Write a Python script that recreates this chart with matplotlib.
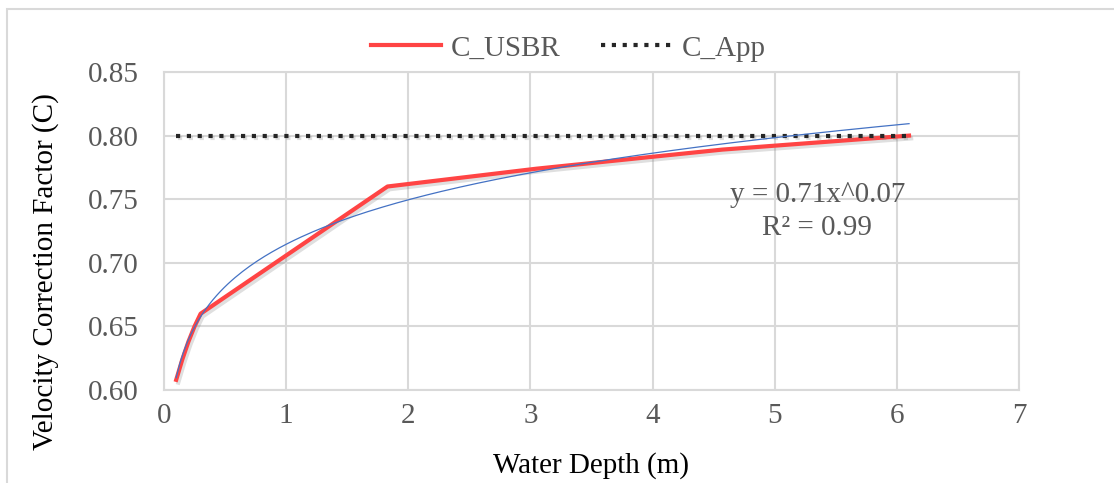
import numpy as np
import matplotlib.pyplot as plt
import matplotlib.patheffects as pe
from matplotlib.patches import Rectangle

# data
depth = [0.1, 0.15, 0.2, 0.25, 0.3, 1.83, 3.05, 4.57, 6.1]
c_usbr = [0.608, 0.624, 0.638, 0.650, 0.660, 0.760, 0.774, 0.789, 0.800]
c_app = [0.80] * len(depth)

x_ticks = [0, 1, 2, 3, 4, 5, 6, 7]
y_ticks = [0.60, 0.65, 0.70, 0.75, 0.80, 0.85]

# power trendline like excel (least squares on logs)
b, log_a = np.polyfit(np.log(depth), np.log(c_usbr), 1)
xs = np.linspace(depth[0], depth[-1], 200)
ys = np.exp(log_a) * xs ** b

plt.rcParams['font.family'] = ['Liberation Serif', 'DejaVu Serif']
grey_txt = '#595959'
grid_c = '#d9d9d9'
fs = 21

fig = plt.figure(figsize=(11.14, 4.83), dpi=100)
ax = fig.add_axes([0.1472, 0.1925, 0.7675, 0.6584])

# chart area border (cut off right/bottom as in the source)
fig.patches.append(Rectangle((7 / 1114, -0.1), 1.2, 1 - 9 / 483 + 0.1,
                             transform=fig.transFigure, fill=False,
                             edgecolor=grid_c, linewidth=1.5))

shadow = [pe.SimpleLineShadow(offset=(1.5, -2), shadow_color='grey', alpha=0.25), pe.Normal()]

ax.plot(depth, c_usbr, color='#ff4444', linewidth=3, label='C_USBR',
        solid_joinstyle='round', path_effects=shadow, zorder=3)
ax.plot(depth, c_app, color='#262626', linewidth=3, linestyle=(0, (1, 1.6)),
        label='C_App', path_effects=shadow, zorder=4)
ax.plot(xs, ys, color='#4472c4', linewidth=0.9, zorder=5)

ax.set_xlim(0, 7)
ax.set_ylim(0.60, 0.85)
ax.set_xticks(x_ticks)
ax.set_yticks(y_ticks)
ax.set_xticklabels([str(v) for v in x_ticks])
ax.set_yticklabels(['%.2f' % v for v in y_ticks])
ax.tick_params(length=0, labelsize=fs, labelcolor=grey_txt)
ax.tick_params(axis='y', pad=18)
ax.tick_params(axis='x', pad=9)
ax.grid(True, color=grid_c, linewidth=1.5)
ax.set_axisbelow(True)
for s in ax.spines.values():
    s.set_color(grid_c)
    s.set_linewidth(1.5)

ax.set_xlabel('Water Depth (m)', fontsize=fs, color='black')
ax.xaxis.set_label_coords(0.5, -0.195)
ax.set_ylabel('Velocity Correction Factor (C)', fontsize=fs, color='black', va='center')
ax.yaxis.set_label_coords(-0.139, 0.374)

ax.text(5.35, 0.753, 'y = 0.71x^0.07', fontsize=fs, color=grey_txt, ha='center', va='center')
ax.text(5.35, 0.727, 'R² = 0.99', fontsize=fs, color=grey_txt, ha='center', va='center')

leg = fig.legend(loc='center', bbox_to_anchor=(0.51, 0.9), ncol=2, frameon=False,
                 fontsize=fs, handlelength=2.4, columnspacing=1.4, handletextpad=0.35)
for t in leg.get_texts():
    t.set_color(grey_txt)
for h in leg.get_lines():
    h.set_path_effects([])

fig.savefig('out.png', dpi=100)
